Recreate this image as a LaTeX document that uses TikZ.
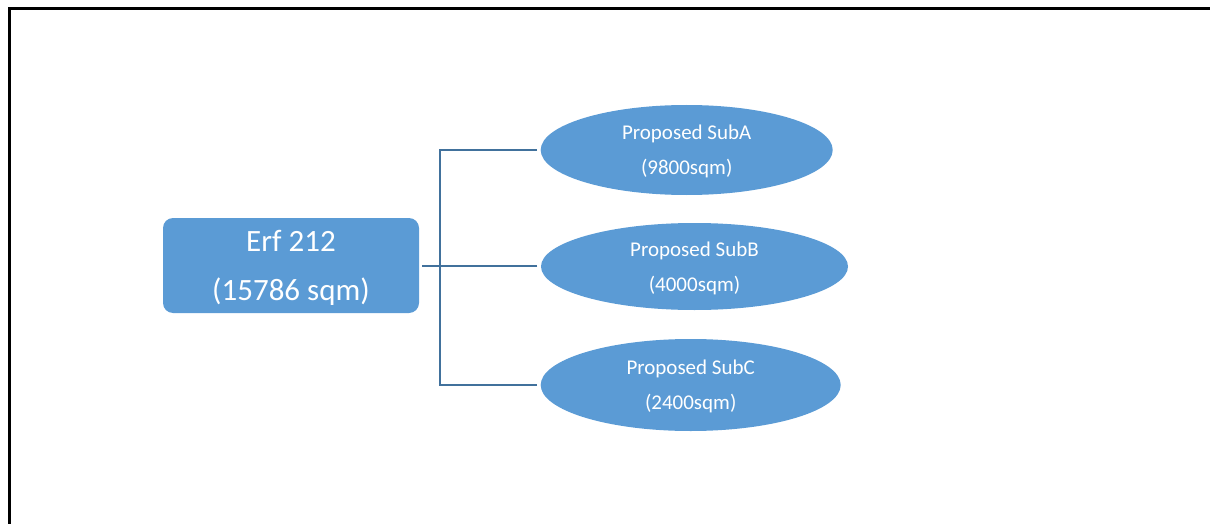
\documentclass[tikz,border=0pt]{standalone}
\usepackage{fontspec}
\setmainfont{Carlito}
\usetikzlibrary{shapes.geometric}
\definecolor{plotfill}{RGB}{91,155,213}
\definecolor{plotline}{RGB}{65,113,156}
\tikzset{
  parcel/.style={draw=none, fill=plotfill, rounded corners=10pt, text=white,
    minimum width=256pt, minimum height=95pt, inner sep=0pt, align=center,
    text depth=0pt, font=\fontsize{31}{49}\selectfont},
  subparcel/.style={ellipse, draw=none, fill=plotfill, text=white, inner sep=0pt,
    align=center, text depth=0pt, font=\fontsize{21}{35}\selectfont},
  conn/.style={draw=plotline, line width=2.4pt},
  frame/.style={draw=black, line width=3.3pt, line join=miter}
}
\begin{document}
\begin{tikzpicture}[x=1pt, y=-1pt]
  \useasboundingbox (0,0) rectangle (1210,524);
  % page frame (top and left edges)
  \draw[frame] (9.3,530) -- (9.3,8.6) -- (1215,8.6);

  % parent parcel
  \node[parcel] (erf) at (291,265.5) {Erf 212\\(15786 sqm)};

  % proposed subdivisions
  \node[subparcel, minimum width=292pt, minimum height=90pt] (subA) at (686.7,150) {Proposed SubA\\(9800sqm)};
  \node[subparcel, minimum width=307pt, minimum height=87pt] (subB) at (694.5,266.5) {Proposed SubB\\(4000sqm)};
  \node[subparcel, minimum width=300pt, minimum height=92pt] (subC) at (690.7,385) {Proposed SubC\\(2400sqm)};

  % tree connector
  \coordinate (j) at (440,266);
  \draw[conn, shorten <=3pt] (erf.east |- j) -- (j);
  \draw[conn, shorten <=3.5pt] (subA.west) -| (j);
  \draw[conn, shorten <=3.5pt] (subC.west) -| (j);
  \draw[conn, shorten <=3.5pt] (subB.west |- j) -- (j);
\end{tikzpicture}
\end{document}
